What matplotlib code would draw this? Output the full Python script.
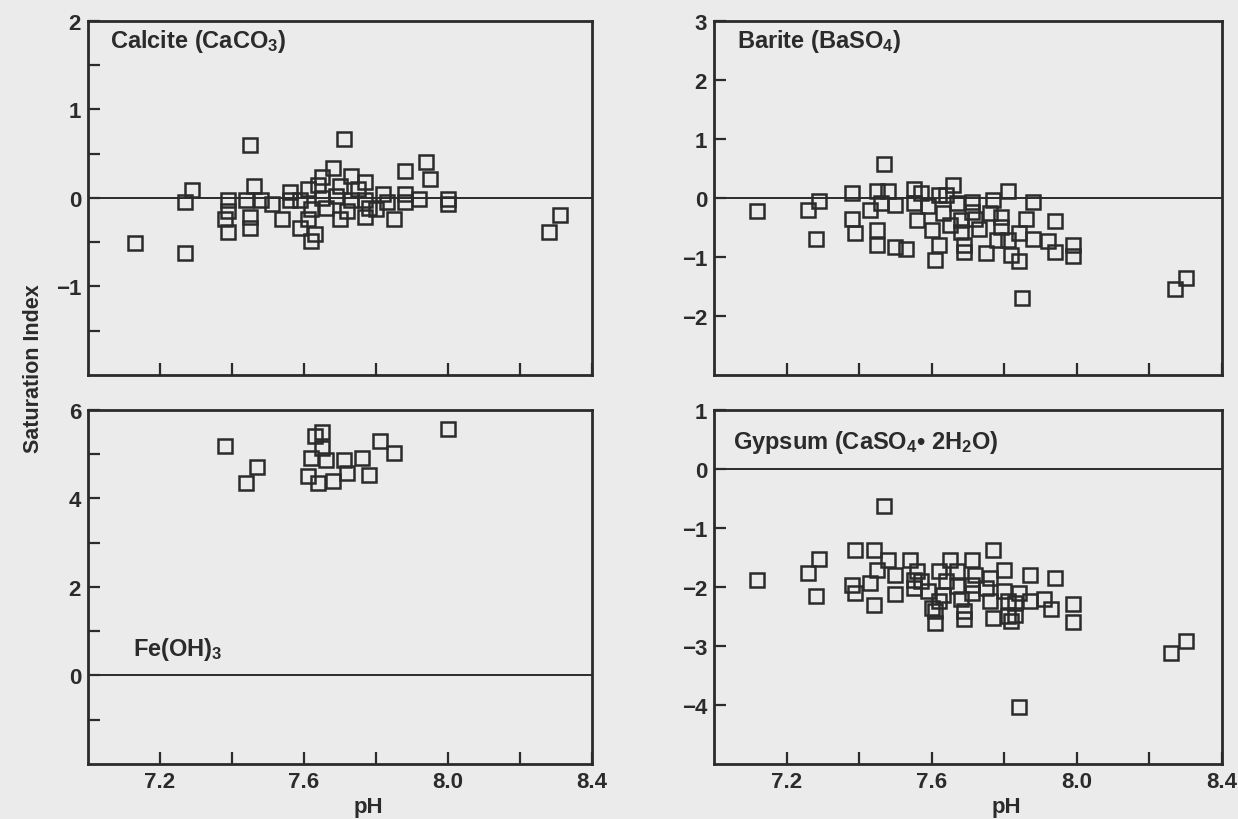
import numpy as np
import matplotlib.pyplot as plt

plt.rcParams['font.family'] = ['Liberation Sans', 'DejaVu Sans']
plt.rcParams['font.weight'] = 'bold'
plt.rcParams['mathtext.fontset'] = 'custom'
plt.rcParams['mathtext.rm'] = 'Liberation Sans:bold'
plt.rcParams['mathtext.it'] = 'Liberation Sans:italic:bold'

# saturation index vs pH for four minerals
calcite_ph = [7.13, 7.27, 7.27, 7.29, 7.45, 7.71, 7.94, 7.88, 7.95, 8.00, 8.00, 8.31, 8.28,
              7.68, 7.65, 7.73, 7.77, 7.46, 7.39, 7.39, 7.39, 7.44, 7.45, 7.45, 7.48, 7.51,
              7.54, 7.56, 7.56, 7.59, 7.61, 7.62, 7.61, 7.59, 7.63, 7.62, 7.64, 7.65, 7.66,
              7.69, 7.70, 7.70, 7.73, 7.72, 7.75, 7.77, 7.78, 7.77, 7.80, 7.82, 7.83, 7.85,
              7.88, 7.88, 7.92, 7.38]
calcite_si = [-0.51, -0.62, -0.04, 0.09, 0.60, 0.67, 0.41, 0.31, 0.22, -0.01, -0.07, -0.19, -0.38,
              0.34, 0.24, 0.25, 0.18, 0.13, -0.02, -0.15, -0.38, -0.02, -0.22, -0.34, -0.02, -0.07,
              -0.24, -0.02, 0.07, -0.02, 0.10, -0.13, -0.24, -0.34, -0.41, -0.49, 0.15, 0.00, -0.11,
              0.02, -0.24, 0.13, -0.02, -0.15, 0.10, -0.02, -0.11, -0.22, -0.13, 0.04, -0.05, -0.24,
              0.04, -0.05, -0.01, -0.24]

barite_ph = [7.12, 7.26, 7.29, 7.28, 7.38, 7.38, 7.39, 7.47, 7.45, 7.43, 7.45, 7.45, 7.50, 7.53,
             7.61, 7.62, 7.66, 7.69, 7.69, 7.75, 7.81, 7.82, 7.84, 7.85, 7.84, 7.88, 7.86, 7.88,
             7.92, 7.94, 7.94, 7.99, 7.99, 8.30, 8.27, 7.48, 7.46, 7.50, 7.55, 7.57, 7.55, 7.59,
             7.56, 7.60, 7.62, 7.63, 7.64, 7.67, 7.65, 7.68, 7.68, 7.71, 7.71, 7.73, 7.72, 7.77,
             7.76, 7.79, 7.79, 7.78, 7.81]
barite_si = [-0.22, -0.21, -0.05, -0.69, 0.08, -0.35, -0.59, 0.58, 0.12, -0.21, -0.55, -0.80, -0.83,
             -0.86, -1.05, -0.80, 0.22, -0.80, -0.91, -0.94, 0.12, -0.97, -1.07, -1.70, -0.60, -0.06,
             -0.35, -0.69, -0.73, -0.91, -0.39, -0.79, -0.98, -1.36, -1.55, 0.12, -0.08, -0.12, 0.16,
             0.08, -0.08, -0.14, -0.38, -0.55, 0.05, -0.26, 0.05, -0.08, -0.46, -0.38, -0.57, -0.06,
             -0.23, -0.52, -0.35, -0.04, -0.26, -0.32, -0.49, -0.72, -0.72]

feoh_ph = [7.38, 7.47, 7.44, 7.63, 7.65, 7.65, 7.62, 7.66, 7.61, 7.64, 7.68, 7.71, 7.72, 7.76,
           7.78, 7.81, 7.85, 8.00]
feoh_si = [5.18, 4.72, 4.36, 5.41, 5.51, 5.13, 4.91, 4.87, 4.51, 4.36, 4.40, 4.88, 4.57, 4.91,
           4.53, 5.30, 5.02, 5.57]

gypsum_ph = [7.12, 7.26, 7.29, 7.28, 7.47, 7.39, 7.38, 7.39, 7.44, 7.43, 7.44, 7.48, 7.50, 7.77,
             7.80, 7.84, 7.87, 7.94, 7.99, 7.99, 7.93, 7.91, 8.30, 8.26, 7.61, 7.69, 7.82,
             7.54, 7.65, 7.71, 7.45, 7.50, 7.56, 7.62, 7.67, 7.72, 7.76, 7.55, 7.55, 7.57, 7.59,
             7.60, 7.62, 7.61, 7.63, 7.64, 7.67, 7.68, 7.69, 7.71, 7.71, 7.75, 7.76, 7.77, 7.80,
             7.81, 7.81, 7.83, 7.83, 7.84, 7.87]
gypsum_si = [-1.89, -1.77, -1.53, -2.16, -0.63, -1.38, -1.96, -2.10, -1.38, -1.93, -2.30, -1.55, -2.12,
             -1.37, -1.71, -4.04, -1.79, -1.85, -2.28, -2.59, -2.38, -2.21, -2.92, -3.12, -2.61, -2.55,
             -2.57, -1.55, -1.54, -1.55, -1.71, -1.79, -1.73, -1.73, -1.73, -1.79, -1.84, -1.88, -2.02,
             -1.90, -2.07, -2.36, -2.24, -2.41, -2.13, -1.90, -1.99, -2.21, -2.41, -2.10, -1.96, -2.02,
             -2.24, -2.53, -2.07, -2.24, -2.50, -2.27, -2.47, -2.10, -2.24]

x_ticks = [7.2, 7.4, 7.6, 7.8, 8.0, 8.2, 8.4]
x_labels = ['7.2', '', '7.6', '', '8.0', '', '8.4']

ink = '#2b2b2b'
paper = '#ebebeb'

fig = plt.figure(figsize=(12.38, 8.2), dpi=100, facecolor=paper)

panels = [
    # rect, ph, si, ylim, yticks, labelled values, title, title pos, bottom row
    ([0.0711, 0.5415, 0.4071, 0.4317], calcite_ph, calcite_si, (-2, 2),
     np.arange(-1.5, 2.01, 0.5), [-1, 0, 1, 2],
     'Calcite (CaCO$_3$)', (0.044, 0.944), False),
    ([0.5767, 0.5415, 0.4103, 0.4317], barite_ph, barite_si, (-3, 3),
     np.arange(-2, 3.01, 1), [-2, -1, 0, 1, 2, 3],
     'Barite (BaSO$_4$)', (0.045, 0.944), False),
    ([0.0711, 0.0671, 0.4071, 0.4317], feoh_ph, feoh_si, (-2, 6),
     np.arange(-1, 6.01, 1), [0, 2, 4, 6],
     'Fe(OH)$_3$', (0.09, 0.325), True),
    ([0.5767, 0.0671, 0.4103, 0.4317], gypsum_ph, gypsum_si, (-5, 1),
     np.arange(-4, 1.01, 1), [-4, -3, -2, -1, 0, 1],
     'Gypsum (CaSO$_4$• 2H$_2$O)', (0.037, 0.91), True),
]

for rect, ph, si, ylim, yticks, ylab, title, tpos, bottom in panels:
    ax = fig.add_axes(rect)
    ax.set_facecolor(paper)
    ax.set_xlim(7.0, 8.4)
    ax.set_ylim(*ylim)
    ax.axhline(0, color=ink, lw=1.4, zorder=1)
    ax.plot(ph, si, 's', ms=10, mfc='none', mec=ink, mew=1.8, zorder=3)

    ax.set_xticks(x_ticks)
    ax.set_xticklabels(x_labels if bottom else [''] * len(x_ticks))
    ax.set_yticks(yticks)
    labels = []
    for v in yticks:
        r = int(round(v))
        if abs(v - r) < 1e-6 and r in ylab:
            labels.append(str(r).replace('-', '\u2212'))
        else:
            labels.append('')
    ax.set_yticklabels(labels)
    ax.tick_params(direction='in', length=8.5, width=1.6, colors=ink,
                   labelsize=16, pad=5, top=False, right=False)
    for s in ax.spines.values():
        s.set_linewidth(2.0)
        s.set_color(ink)

    ax.text(tpos[0], tpos[1], title, transform=ax.transAxes, fontsize=17,
            color=ink, ha='left', va='center')
    if bottom:
        xc = 0.556 if rect[0] < 0.3 else 0.576
        ax.text(xc, -0.12, 'pH', transform=ax.transAxes, fontsize=16,
                color=ink, ha='center', va='center')

fig.text(0.027, 0.55, 'Saturation Index', rotation=90, fontsize=15.5,
         color=ink, ha='center', va='center')

fig.savefig('out.png', dpi=100, facecolor=paper)
